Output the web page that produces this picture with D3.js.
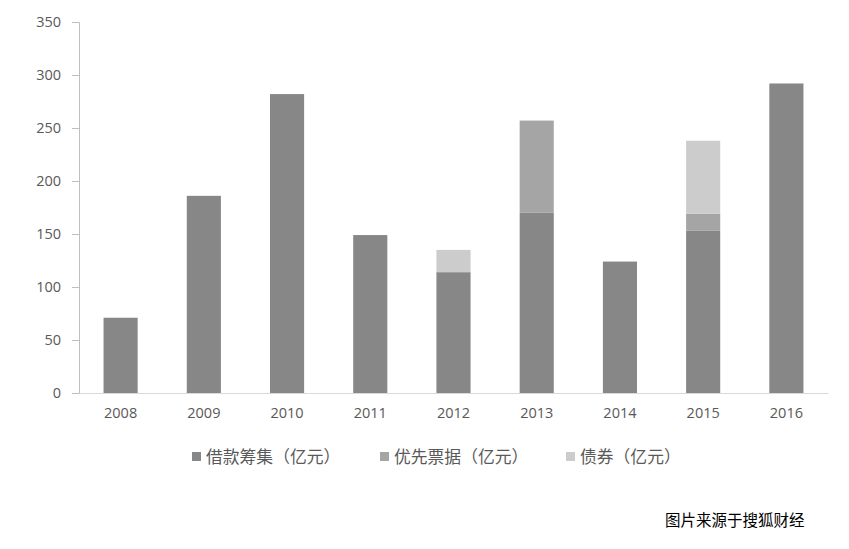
<!DOCTYPE html>
<html><head><meta charset="utf-8">
<script src="https://cdn.jsdelivr.net/npm/d3@7/dist/d3.min.js"></script>
<style>body{margin:0;background:#fff;}svg{display:block;}</style>
</head><body>
<script>
const years = ["2008","2009","2010","2011","2012","2013","2014","2015","2016"];
const loans = [71, 186, 282, 149, 114, 170, 124, 153, 292];
const preferred = [0, 0, 0, 0, 0, 87, 0, 16, 0];
const bonds = [0, 0, 0, 0, 21, 0, 0, 69, 0];
const seriesNames = ["借款筹集（亿元）", "优先票据（亿元）", "债券（亿元）"];
const yTicks = [0, 50, 100, 150, 200, 250, 300, 350];
const sourceText = "图片来源于搜狐财经";

const colors = ["#878787", "#a5a5a5", "#cccccc"];
const W = 849, H = 549;
const m = {left: 79, right: 21, top: 22, bottom: 156};
const svg = d3.select("body").append("svg").attr("width", W).attr("height", H);

const x = d3.scaleBand().domain(years).range([m.left, W - m.right]).paddingInner(0.59).paddingOuter(0.295);
const y = d3.scaleLinear().domain([0, 350]).range([H - m.bottom, m.top]);

const rows = years.map((yr, i) => ({year: yr, s0: loans[i], s1: preferred[i], s2: bonds[i]}));
const stack = d3.stack().keys(["s0", "s1", "s2"])(rows);

const g = svg.append("g");
stack.forEach((layer, li) => {
  g.selectAll(null).data(layer.filter(d => d[1] - d[0] > 0)).enter().append("rect")
    .attr("x", d => x(d.data.year))
    .attr("width", x.bandwidth())
    .attr("y", d => y(d[1]))
    .attr("height", d => y(d[0]) - y(d[1]))
    .attr("fill", colors[li]);
});

const font = "'Open Sans', 'Noto Sans CJK SC', sans-serif";
// y axis
const ya = svg.append("g").attr("transform", `translate(${m.left},0)`)
  .call(d3.axisLeft(y).tickValues(yTicks).tickSize(7).tickPadding(11));
ya.select(".domain").attr("stroke", "#bfbfbf");
ya.selectAll(".tick line").attr("stroke", "#bfbfbf");
ya.selectAll("text").attr("fill", "#595959").style("font-family", font).style("font-size", "14.5px");

// x axis
const xa = svg.append("g").attr("transform", `translate(0,${y(0)})`)
  .call(d3.axisBottom(x).tickSize(0).tickPadding(15));
xa.select(".domain").attr("stroke", "#d9d9d9");
xa.selectAll("text").attr("fill", "#595959").style("font-family", font).style("font-size", "14.5px");

// legend
const legX = [192, 380, 566];
seriesNames.forEach((n, i) => {
  svg.append("rect").attr("x", legX[i]).attr("y", 452).attr("width", 9).attr("height", 9).attr("fill", colors[i]);
  svg.append("text").attr("x", legX[i] + 14).attr("y", 457).attr("dy", "0.35em")
    .attr("fill", "#595959").style("font-family", "'Noto Sans CJK SC', sans-serif").style("font-size", "16.8px")
    .text(n);
});

svg.append("text").attr("x", 665).attr("y", 521).attr("dy", "0.35em")
  .attr("fill", "#000").style("font-family", "'Noto Sans CJK SC', sans-serif").style("font-size", "15.5px")
  .text(sourceText);
</script>
</body></html>
